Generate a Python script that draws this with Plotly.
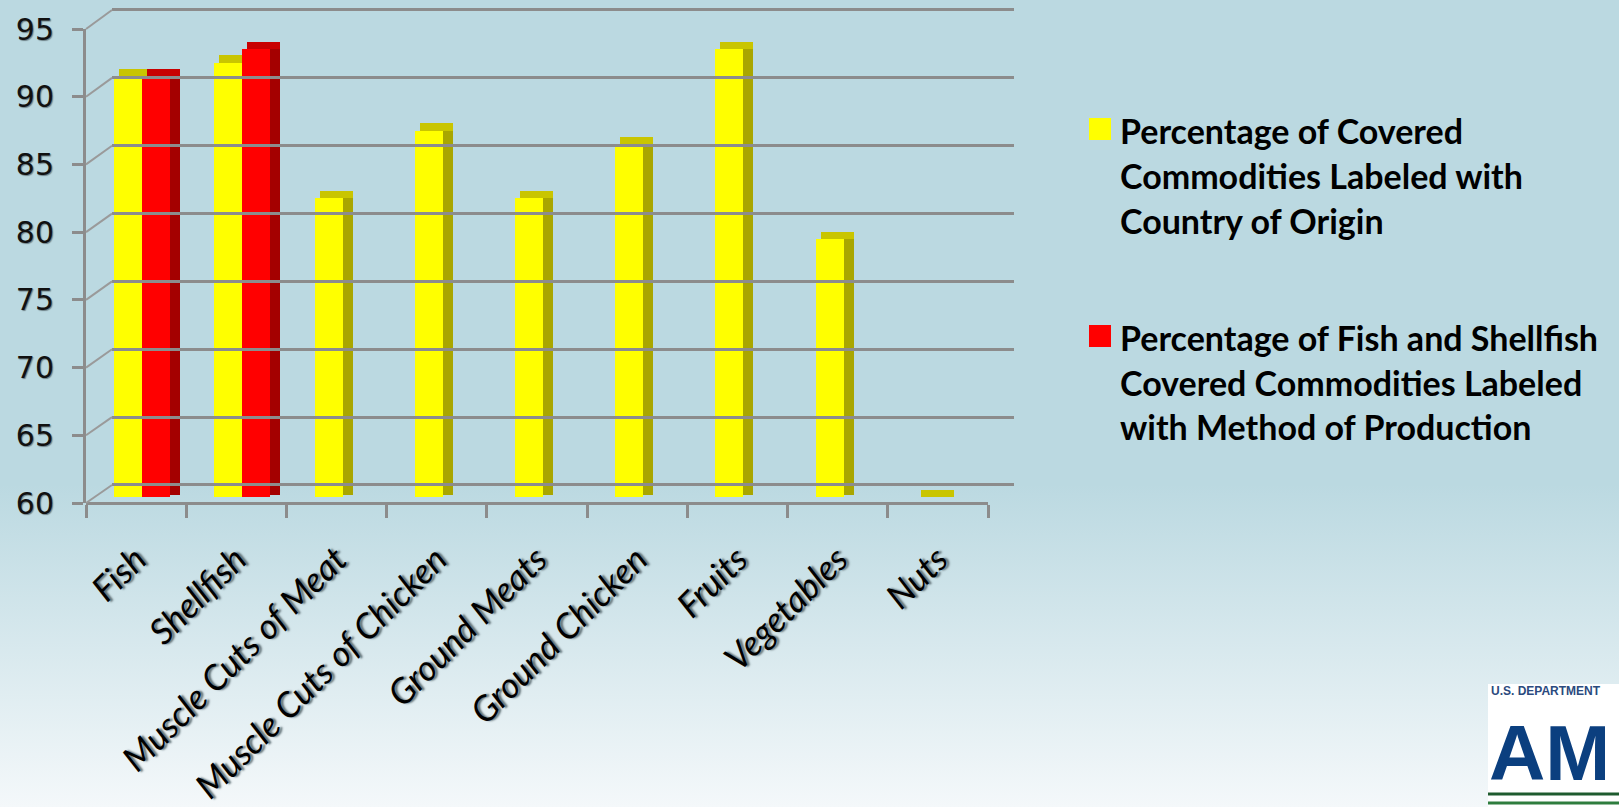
import base64
import plotly.graph_objects as go

# ---------------- data ----------------
categories = ["Fish", "Shellfish", "Muscle Cuts of Meat", "Muscle Cuts of Chicken",
              "Ground Meats", "Ground Chicken", "Fruits", "Vegetables", "Nuts"]
country_of_origin = [91, 92, 82, 87, 82, 86, 93, 79, 60]
method_of_production = [91, 93, None, None, None, None, None, None, None]
y_ticks = [60, 65, 70, 75, 80, 85, 90, 95]
legend_lines_1 = ["Percentage of Covered", "Commodities Labeled with", "Country of Origin"]
legend_lines_2 = ["Percentage of Fish and Shellfish", "Covered Commodities Labeled",
                  "with Method of Production"]

# ---------------- geometry helpers ----------------
W, H = 1619, 807
def px(x):
    return x / W
def py(y):
    return 1 - y / H

Y0, Y1 = 60, 95
DEPTH_Y = 0.55   # value units for top face depth
DEPTH_X = 0.10   # category units for side face depth
BAR_W = 0.28
GRID_PAD = 0.25  # value units of padding so edge gridlines are kept

fig = go.Figure()

def add_series(values, off, front, top, side, name):
    heights = [None if v is None else v - Y0 for v in values]
    side_base = [None if v is None else Y0 + DEPTH_Y * 0.3 for v in values]
    side_h = [None if v is None else v - Y0 + DEPTH_Y * 0.7 for v in values]
    top_base = [None if v is None else v for v in values]
    top_h = [None if v is None else DEPTH_Y for v in values]
    fig.add_trace(go.Bar(x=categories, y=side_h, base=side_base, offset=off + BAR_W,
                         width=DEPTH_X, marker=dict(color=side, line=dict(width=0)),
                         showlegend=False, hoverinfo="skip"))
    fig.add_trace(go.Bar(x=categories, y=top_h, base=top_base, offset=off + DEPTH_X * 0.5,
                         width=BAR_W + DEPTH_X * 0.5, marker=dict(color=top, line=dict(width=0)),
                         showlegend=False, hoverinfo="skip"))
    fig.add_trace(go.Bar(x=categories, y=heights, base=[Y0] * len(values), offset=off,
                         width=BAR_W, marker=dict(color=front, line=dict(width=0)),
                         name=name, showlegend=False,
                         hovertemplate="%{x}: %{customdata}<extra></extra>",
                         customdata=values))

add_series(country_of_origin, -0.22, "#FFFF00", "#C9C500", "#A9A600",
           " ".join(legend_lines_1))
add_series(method_of_production, 0.06, "#FF0000", "#C80000", "#A40000",
           " ".join(legend_lines_2))

fig.add_trace(go.Scatter(x=[0.5], y=[Y0 + 1], xaxis="x2", yaxis="y2", mode="markers",
                         marker=dict(opacity=0), showlegend=False, hoverinfo="skip"))
fig.add_trace(go.Scatter(x=[categories[0]], y=[Y0 + 1], xaxis="x", yaxis="y3", mode="markers",
                         marker=dict(opacity=0), showlegend=False, hoverinfo="skip"))

grid_col = "#8C8C8C"

svg = ('<svg xmlns="http://www.w3.org/2000/svg" width="100" height="100" viewBox="0 0 100 100" '
       'preserveAspectRatio="none"><defs><linearGradient id="g" x1="0" y1="0" x2="0" y2="1">'
       '<stop offset="0" stop-color="#BBD9E1"/><stop offset="0.6" stop-color="#BBD9E1"/>'
       '<stop offset="1" stop-color="#F4F8FA"/></linearGradient></defs>'
       '<rect width="100" height="100" fill="url(#g)"/></svg>')
svg_uri = "data:image/svg+xml;base64," + base64.b64encode(svg.encode()).decode()

shapes = []
for v in y_ticks:
    yf = 503 - (v - Y0) * (503 - 29) / (Y1 - Y0)
    yb = 485 - (v - Y0) * (485 - 10) / (Y1 - Y0)
    shapes.append(dict(type="line", xref="paper", yref="paper", x0=px(86), y0=py(yf),
                       x1=px(112), y1=py(yb), line=dict(color="#9A9A9A", width=2)))

shapes.append(dict(type="rect", xref="paper", yref="paper", x0=px(1089), x1=px(1111),
                   y0=py(140), y1=py(118), fillcolor="#FFFF00", line=dict(width=0)))
shapes.append(dict(type="rect", xref="paper", yref="paper", x0=px(1089), x1=px(1111),
                   y0=py(347), y1=py(325), fillcolor="#FF0000", line=dict(width=0)))

# logo block (bottom right)
shapes.append(dict(type="rect", xref="paper", yref="paper", x0=px(1488), x1=1.0,
                   y0=0, y1=py(684), fillcolor="#FFFFFF", line=dict(width=0)))
for yy, col in [(794, "#1E5B2E"), (799, "#FFFFFF"), (803, "#2E7D3E")]:
    shapes.append(dict(type="line", xref="paper", yref="paper", x0=px(1488), x1=1.0,
                       y0=py(yy), y1=py(yy), line=dict(color=col, width=3)))

annotations = []
legend_font = dict(family="Lato", size=34, color="#000000", weight="bold")
for i, line in enumerate(legend_lines_1):
    annotations.append(dict(text=line, xref="paper", yref="paper", x=px(1118), y=py(130 + 45 * i),
                            xanchor="left", yanchor="middle", showarrow=False, font=legend_font))
for i, line in enumerate(legend_lines_2):
    annotations.append(dict(text=line, xref="paper", yref="paper", x=px(1118), y=py(337 + 45 * i),
                            xanchor="left", yanchor="middle", showarrow=False, font=legend_font))
annotations.append(dict(text="U.S. DEPARTMENT", xref="paper", yref="paper",
                        x=px(1489), y=py(691), xanchor="left", yanchor="middle", showarrow=False,
                        font=dict(family="Liberation Sans", size=12, color="#2B4A7E", weight="bold")))
annotations.append(dict(text="AM", xref="paper", yref="paper",
                        x=px(1487), y=py(753), xanchor="left", yanchor="middle", showarrow=False,
                        font=dict(family="Liberation Sans", size=78, color="#0B3F7F", weight="bold")))

fig.update_layout(
    width=W, height=H, autosize=False,
    margin=dict(l=0, r=0, t=0, b=0, pad=0, autoexpand=False),
    paper_bgcolor="#BBD9E1", plot_bgcolor="rgba(0,0,0,0)",
    barmode="overlay", bargap=0,
    showlegend=False,
    images=[dict(source=svg_uri, xref="paper", yref="paper", x=0, y=1, sizex=1, sizey=1,
                 xanchor="left", yanchor="top", sizing="stretch", layer="below")],
    shapes=shapes, annotations=annotations,
    xaxis=dict(type="category", categoryorder="array", categoryarray=categories,
               range=[-0.5, len(categories) - 0.5], automargin=False,
               domain=[px(86), px(988)], anchor="free", position=py(503),
               showgrid=False, zeroline=False,
               showline=True, linecolor=grid_col, linewidth=3,
               ticks="outside", tickson="boundaries", ticklen=13, tickwidth=3, tickcolor=grid_col,
               tickangle=-45, ticklabelstandoff=20,
               tickfont=dict(family="Lato", size=35, color="#000000", style="italic",
                             shadow="2px 2px 2px #5F6F75")),
    yaxis=dict(range=[Y0, Y1], domain=[py(497), py(22)], anchor="x", automargin=False,
               showgrid=False, zeroline=False, showline=False, showticklabels=False, ticks=""),
    xaxis2=dict(range=[0, 1], domain=[px(112), px(1014)], anchor="y2", automargin=False,
                showgrid=False, zeroline=False, showline=False, showticklabels=False, ticks=""),
    yaxis2=dict(range=[Y0 - GRID_PAD, Y1 + GRID_PAD],
                domain=[py(485 + GRID_PAD * 475 / 35), py(10 - GRID_PAD * 475 / 35)],
                anchor="x2", automargin=False,
                tickvals=y_ticks, showgrid=True, gridcolor=grid_col, gridwidth=3,
                zeroline=False, showline=False, showticklabels=False, ticks=""),
    yaxis3=dict(range=[Y0, Y1], domain=[py(503), py(29)], anchor="x", automargin=False,
                tickvals=y_ticks, ticktext=[str(v) for v in y_ticks],
                showgrid=False, zeroline=False,
                showline=True, linecolor=grid_col, linewidth=3,
                ticks="outside", ticklen=11, tickwidth=3, tickcolor=grid_col,
                ticklabelstandoff=12,
                tickfont=dict(family="DejaVu Sans", size=30, color="#111111",
                              shadow="1px 1px 1px #6F8288")),
)

fig.write_html("out.html", config={"displayModeBar": False},
               post_script="document.body.style.margin='0';document.body.style.overflow='hidden';")
